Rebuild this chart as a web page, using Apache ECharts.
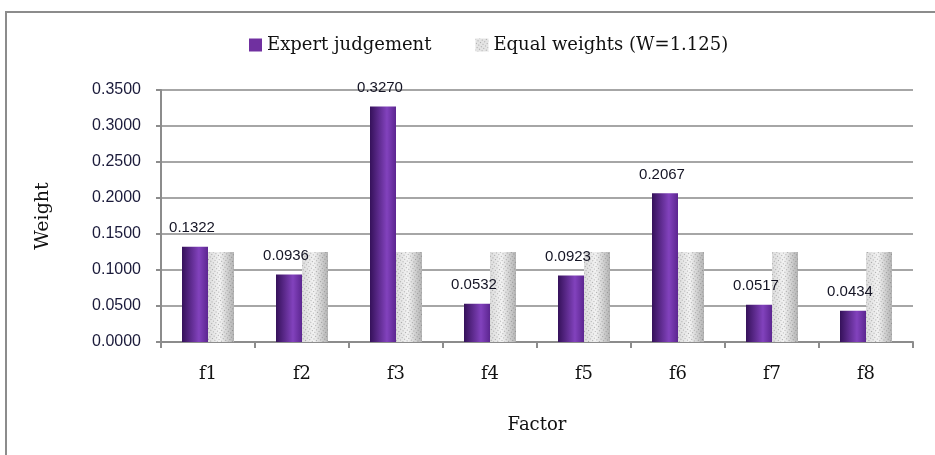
<!DOCTYPE html>
<html>
<head>
<meta charset="utf-8">
<script src="https://cdn.jsdelivr.net/npm/echarts@6/dist/echarts.min.js"></script>
<style>
  html, body { margin: 0; padding: 0; background: #fff; }
  #main { width: 935px; height: 455px; }
</style>
</head>
<body>
<div id="main"></div>
<script>
// chart data
var factors = ['f1', 'f2', 'f3', 'f4', 'f5', 'f6', 'f7', 'f8'];
var expertWeights = [0.1322, 0.0936, 0.3270, 0.0532, 0.0923, 0.2067, 0.0517, 0.0434];
var equalWeights = [0.125, 0.125, 0.125, 0.125, 0.125, 0.125, 0.125, 0.125];
var seriesNames = ['Expert judgement', 'Equal weights (W=1.125)'];

var myChart = echarts.init(document.getElementById('main'));

var purple = new echarts.graphic.LinearGradient(0, 0, 1, 0, [
    { offset: 0, color: '#35115a' },
    { offset: 0.65, color: '#8242bd' },
    { offset: 1, color: '#5c2690' }
]);
var grey = new echarts.graphic.LinearGradient(0, 0, 1, 0, [
    { offset: 0, color: '#dcdcdc' },
    { offset: 0.45, color: '#f2f2f2' },
    { offset: 1, color: '#b4b4b4' }
]);

myChart.setOption({
    animation: false,
    graphic: [{
        type: 'rect',
        shape: { x: 6, y: 12, width: 1000, height: 500 },
        style: { fill: 'none', stroke: '#8c8c8c', lineWidth: 2 }
    }],
    legend: {
        top: 31,
        left: 244,
        itemWidth: 13,
        itemHeight: 13,
        itemGap: 44,
        icon: 'rect',
        textStyle: { fontFamily: 'DejaVu Serif', fontSize: 18, color: '#111' },
        data: [
            { name: seriesNames[0], itemStyle: { color: '#7030a0' } },
            { name: seriesNames[1], itemStyle: { color: '#e4e4e4', decal: null } }
        ]
    },
    grid: { left: 161, right: 22, top: 90, bottom: 113 },
    xAxis: {
        type: 'category',
        data: factors,
        name: 'Factor',
        nameLocation: 'middle',
        nameGap: 74,
        nameTextStyle: { fontFamily: 'DejaVu Serif', fontSize: 18, color: '#111' },
        axisLine: { lineStyle: { color: '#8c8c8c', width: 2 } },
        axisTick: { show: true, length: 6, lineStyle: { color: '#8c8c8c', width: 2 } },
        axisLabel: { margin: 23, fontFamily: 'DejaVu Serif', fontSize: 18, color: '#111' }
    },
    yAxis: {
        type: 'value',
        min: 0,
        max: 0.35,
        interval: 0.05,
        name: 'Weight',
        nameLocation: 'middle',
        nameGap: 108,
        nameTextStyle: { fontFamily: 'DejaVu Serif', fontSize: 19, color: '#111' },
        axisLine: { show: true, lineStyle: { color: '#8c8c8c', width: 2 } },
        axisTick: { show: true, length: 5, lineStyle: { color: '#8c8c8c', width: 2 } },
        splitLine: { lineStyle: { color: '#a6a6a6', width: 2 } },
        axisLabel: {
            margin: 20,
            fontFamily: 'Liberation Sans',
            fontSize: 16,
            color: '#1a1a3a',
            formatter: function (v) { return v.toFixed(4); }
        }
    },
    series: [
        {
            name: seriesNames[0],
            type: 'bar',
            data: expertWeights,
            barWidth: 26,
            barGap: '0%',
            itemStyle: { color: purple },
            label: {
                show: true,
                position: 'top',
                distance: 11,
                offset: [-3, 0],
                fontFamily: 'Liberation Sans',
                fontSize: 15,
                color: '#141424',
                formatter: function (p) { return p.value.toFixed(4); }
            }
        },
        {
            name: seriesNames[1],
            type: 'bar',
            data: equalWeights,
            barWidth: 26,
            itemStyle: {
                color: grey,
                decal: {
                    symbol: 'rect',
                    symbolSize: 1,
                    color: 'rgba(90,90,90,0.45)',
                    dashArrayX: [1, 2],
                    dashArrayY: [1, 2],
                    rotation: 0.6
                }
            }
        }
    ]
});
</script>
</body>
</html>
